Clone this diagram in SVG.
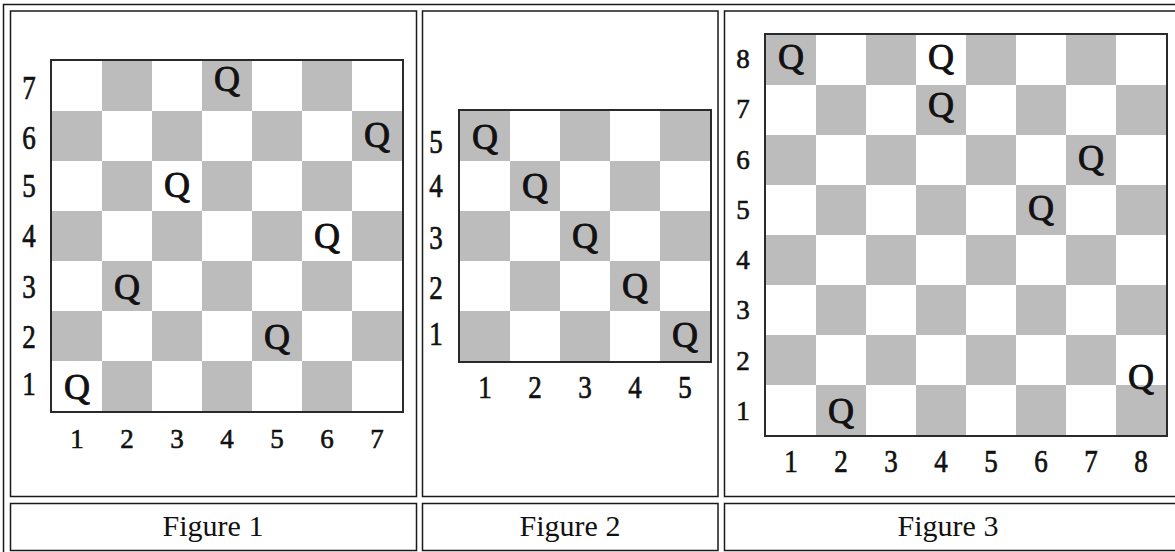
<svg xmlns="http://www.w3.org/2000/svg" xmlns:xlink="http://www.w3.org/1999/xlink" width="1175" height="552" viewBox="0 0 1175 552">
<style>
.frame{fill:none;stroke:#1a1a1a;stroke-width:1.5}
.board{fill:#ffffff;stroke:#2a2a2a;stroke-width:2}
.sq{fill:#bcbcbc}
.q{font-family:"Liberation Serif","Times New Roman",serif;font-size:36px;font-weight:normal;fill:#111;stroke:#111;stroke-width:0.9;text-anchor:middle}
.d{font-family:"Liberation Serif","Times New Roman",serif;font-size:27px;font-weight:normal;fill:#111;stroke:#111;stroke-width:0.6;text-anchor:middle}
.cap{font-family:"Liberation Serif","Times New Roman",serif;font-size:30px;fill:#111;text-anchor:middle}
</style>
<defs>
<rect id="s" class="sq" width="50" height="50"/>
</defs>
<rect width="1175" height="552" fill="#ffffff"/>
<g id="table">
<rect class="frame" x="3.5" y="4.5" width="1185" height="565"/>
<rect class="frame" x="10.5" y="11" width="406" height="485.5"/>
<rect class="frame" x="422.5" y="11" width="295.5" height="485.5"/>
<rect class="frame" x="724.5" y="11" width="470" height="485.5"/>
<rect class="frame" x="10.5" y="503.5" width="406" height="47"/>
<rect class="frame" x="422.5" y="503.5" width="295.5" height="47"/>
<rect class="frame" x="724.5" y="503.5" width="470" height="47"/>
</g>
<g id="figure1">
<rect class="board" x="51" y="60" width="352" height="352"/>
<use href="#s" x="102" y="61"/><use href="#s" x="202" y="61"/><use href="#s" x="302" y="61"/>
<use href="#s" x="52" y="111"/><use href="#s" x="152" y="111"/><use href="#s" x="252" y="111"/><use href="#s" x="352" y="111"/>
<use href="#s" x="102" y="161"/><use href="#s" x="202" y="161"/><use href="#s" x="302" y="161"/>
<use href="#s" x="52" y="211"/><use href="#s" x="152" y="211"/><use href="#s" x="252" y="211"/><use href="#s" x="352" y="211"/>
<use href="#s" x="102" y="261"/><use href="#s" x="202" y="261"/><use href="#s" x="302" y="261"/>
<use href="#s" x="52" y="311"/><use href="#s" x="152" y="311"/><use href="#s" x="252" y="311"/><use href="#s" x="352" y="311"/>
<use href="#s" x="102" y="361"/><use href="#s" x="202" y="361"/><use href="#s" x="302" y="361"/>
<text class="q" x="227" y="91">Q</text>
<text class="q" x="377" y="147">Q</text>
<text class="q" x="177" y="197">Q</text>
<text class="q" x="327" y="248">Q</text>
<text class="q" x="127" y="299">Q</text>
<text class="q" x="277" y="349">Q</text>
<text class="q" x="77" y="399">Q</text>
<text class="d" transform="translate(29,99) scale(1,1.22)">7</text>
<text class="d" transform="translate(29,149) scale(1,1.22)">6</text>
<text class="d" transform="translate(29,197) scale(1,1.22)">5</text>
<text class="d" transform="translate(29,247) scale(1,1.22)">4</text>
<text class="d" transform="translate(29,298) scale(1,1.22)">3</text>
<text class="d" transform="translate(29,348) scale(1,1.22)">2</text>
<text class="d" transform="translate(29,395) scale(1,1.22)">1</text>
<text class="d" x="77" y="448">1</text>
<text class="d" x="127" y="448">2</text>
<text class="d" x="177" y="448">3</text>
<text class="d" x="227" y="448">4</text>
<text class="d" x="277" y="448">5</text>
<text class="d" x="327" y="448">6</text>
<text class="d" x="377" y="448">7</text>
</g>
<g id="figure2">
<rect class="board" x="459" y="110" width="252" height="252"/>
<use href="#s" x="460" y="111"/><use href="#s" x="560" y="111"/><use href="#s" x="660" y="111"/>
<use href="#s" x="510" y="161"/><use href="#s" x="610" y="161"/>
<use href="#s" x="460" y="211"/><use href="#s" x="560" y="211"/><use href="#s" x="660" y="211"/>
<use href="#s" x="510" y="261"/><use href="#s" x="610" y="261"/>
<use href="#s" x="460" y="311"/><use href="#s" x="560" y="311"/><use href="#s" x="660" y="311"/>
<text class="q" x="485" y="149">Q</text>
<text class="q" x="535" y="198">Q</text>
<text class="q" x="585" y="248">Q</text>
<text class="q" x="635" y="298">Q</text>
<text class="q" x="685" y="347">Q</text>
<text class="d" transform="translate(436,153) scale(1,1.22)">5</text>
<text class="d" transform="translate(436,197) scale(1,1.22)">4</text>
<text class="d" transform="translate(436,249) scale(1,1.22)">3</text>
<text class="d" transform="translate(436,299) scale(1,1.22)">2</text>
<text class="d" transform="translate(436,345) scale(1,1.22)">1</text>
<text class="d" transform="translate(485,397.5) scale(1,1.18)">1</text>
<text class="d" transform="translate(535,397.5) scale(1,1.18)">2</text>
<text class="d" transform="translate(585,397.5) scale(1,1.18)">3</text>
<text class="d" transform="translate(635,397.5) scale(1,1.18)">4</text>
<text class="d" transform="translate(685,397.5) scale(1,1.18)">5</text>
</g>
<g id="figure3">
<rect class="board" x="765" y="34" width="402" height="402"/>
<use href="#s" x="766" y="35"/><use href="#s" x="866" y="35"/><use href="#s" x="966" y="35"/><use href="#s" x="1066" y="35"/>
<use href="#s" x="816" y="85"/><use href="#s" x="916" y="85"/><use href="#s" x="1016" y="85"/><use href="#s" x="1116" y="85"/>
<use href="#s" x="766" y="135"/><use href="#s" x="866" y="135"/><use href="#s" x="966" y="135"/><use href="#s" x="1066" y="135"/>
<use href="#s" x="816" y="185"/><use href="#s" x="916" y="185"/><use href="#s" x="1016" y="185"/><use href="#s" x="1116" y="185"/>
<use href="#s" x="766" y="235"/><use href="#s" x="866" y="235"/><use href="#s" x="966" y="235"/><use href="#s" x="1066" y="235"/>
<use href="#s" x="816" y="285"/><use href="#s" x="916" y="285"/><use href="#s" x="1016" y="285"/><use href="#s" x="1116" y="285"/>
<use href="#s" x="766" y="335"/><use href="#s" x="866" y="335"/><use href="#s" x="966" y="335"/><use href="#s" x="1066" y="335"/>
<use href="#s" x="816" y="385"/><use href="#s" x="916" y="385"/><use href="#s" x="1016" y="385"/><use href="#s" x="1116" y="385"/>
<text class="q" x="791" y="69">Q</text>
<text class="q" x="941" y="69">Q</text>
<text class="q" x="941" y="117">Q</text>
<text class="q" x="1091" y="170">Q</text>
<text class="q" x="1041" y="220">Q</text>
<text class="q" x="1141" y="389">Q</text>
<text class="q" x="841" y="423">Q</text>
<text class="d" x="743" y="68">8</text>
<text class="d" x="743" y="118">7</text>
<text class="d" x="743" y="169">6</text>
<text class="d" x="743" y="219">5</text>
<text class="d" x="743" y="269">4</text>
<text class="d" x="743" y="319">3</text>
<text class="d" x="743" y="370">2</text>
<text class="d" x="743" y="420">1</text>
<text class="d" transform="translate(791,471.5) scale(1,1.15)">1</text>
<text class="d" transform="translate(841,471.5) scale(1,1.15)">2</text>
<text class="d" transform="translate(891,471.5) scale(1,1.15)">3</text>
<text class="d" transform="translate(941,471.5) scale(1,1.15)">4</text>
<text class="d" transform="translate(991,471.5) scale(1,1.15)">5</text>
<text class="d" transform="translate(1041,471.5) scale(1,1.15)">6</text>
<text class="d" transform="translate(1091,471.5) scale(1,1.15)">7</text>
<text class="d" transform="translate(1141,471.5) scale(1,1.15)">8</text>
</g>
<g id="captions">
<text class="cap" x="213" y="536">Figure 1</text>
<text class="cap" x="570" y="536">Figure 2</text>
<text class="cap" x="948" y="536">Figure 3</text>
</g>
</svg>
